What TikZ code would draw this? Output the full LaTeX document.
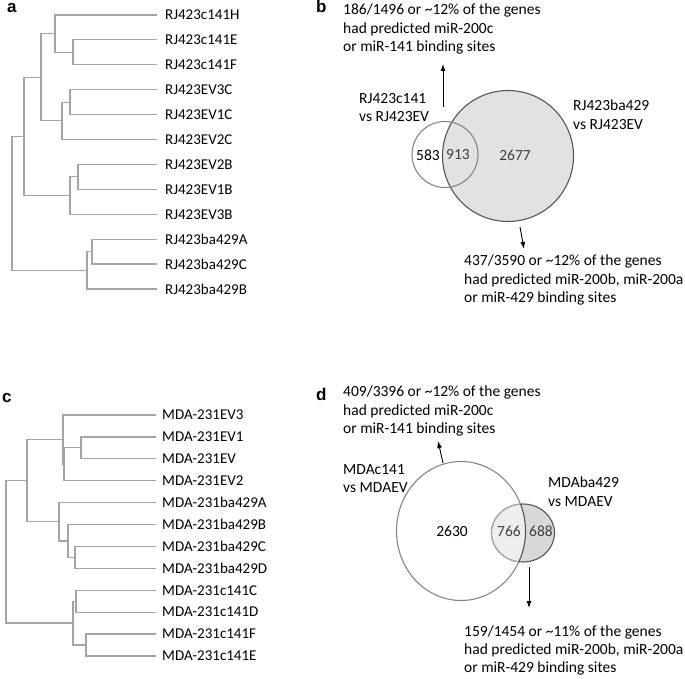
\documentclass[tikz,border=0pt]{standalone}
\usepackage{fontspec}
\setmainfont{Carlito}
\newfontfamily\panelfont{Liberation Sans}
\usepackage{tikz}
\usetikzlibrary{arrows.meta,shapes.geometric}
\definecolor{TreeGray}{HTML}{A4A4A4}
\definecolor{RingDark}{HTML}{555555}
\definecolor{RingMid}{HTML}{858585}
\definecolor{RingLight}{HTML}{A8A8A8}
\definecolor{ShadeBig}{HTML}{E2E2E2}
\definecolor{ShadeDark}{HTML}{D8D8D8}
\definecolor{ShadeLight}{HTML}{EEEEEE}
\definecolor{NumGray}{HTML}{404040}

\begin{document}
\begin{tikzpicture}[x=1pt, y=-1pt,
  leaf/.style={anchor=west, inner sep=0pt, font=\fontsize{15}{16}\selectfont},
  branch/.style={draw=TreeGray, line width=1.2pt},
  panel/.style={anchor=base west, inner sep=0pt, font=\panelfont\bfseries\fontsize{17}{19}\selectfont},
  note/.style={anchor=north west, inner sep=0pt, align=left, font=\fontsize{15.5}{18.4}\selectfont},
  count/.style={inner sep=0pt, font=\fontsize{15.5}{17}\selectfont},
  arrow/.style={-{Latex[length=7pt, width=5pt]}, line width=0.9pt}
]
\useasboundingbox (0,0) rectangle (685,679);

% panel labels
\node[panel] (pa) at (7,12.5) {a};
\node[panel] (pb) at (316,12.5) {b};
\node[panel] (pc) at (2,402) {c};
\node[panel] (pd) at (316,400) {d};

% tree a
\foreach \lab [count=\i from 1] in {RJ423c141H, RJ423c141E, RJ423c141F, RJ423EV3C, RJ423EV1C, RJ423EV2C,
    RJ423EV2B, RJ423EV1B, RJ423EV3B, RJ423ba429A, RJ423ba429C, RJ423ba429B} {
  \coordinate (a\i) at (157, {15+24.9*(\i-1)});
  \node[leaf] (a\i l) at (165, {15+24.9*(\i-1)}) {\lab};
}
\coordinate (aEF) at (73,52.35);
\coordinate (aHEF) at (55,33.7);
\coordinate (aC13) at (70,102.15);
\coordinate (aC) at (62,120.8);
\coordinate (aCH) at (41,77.3);
\coordinate (aB12) at (78,176.85);
\coordinate (aB) at (70,195.5);
\coordinate (aEV) at (24,136.4);
\coordinate (aAC) at (92,251.55);
\coordinate (aBA) at (87,270.2);
\coordinate (aRoot) at (12,203.3);
\foreach \p/\c in {aEF/a2, aEF/a3, aHEF/a1, aHEF/aEF, aC13/a4, aC13/a5, aC/aC13, aC/a6,
    aCH/aHEF, aCH/aC, aB12/a7, aB12/a8, aB/aB12, aB/a9, aEV/aCH, aEV/aB,
    aAC/a10, aAC/a11, aBA/aAC, aBA/a12, aRoot/aEV, aRoot/aBA}
  \draw[branch] (\p) |- (\c);

% tree c
\foreach \lab [count=\i from 1] in {MDA-231EV3, MDA-231EV1, MDA-231EV, MDA-231EV2, MDA-231ba429A, MDA-231ba429B,
    MDA-231ba429C, MDA-231ba429D, MDA-231c141C, MDA-231c141D, MDA-231c141F, MDA-231c141E} {
  \coordinate (c\i) at (156, {415+21.9*(\i-1)});
  \node[leaf] (c\i l) at (162, {415+21.9*(\i-1)}) {\lab};
}
\coordinate (cE12) at (81,447.85);
\coordinate (cE2) at (64,464.3);
\coordinate (cEV) at (63,439.6);
\coordinate (cCD) at (75,557.35);
\coordinate (cBCD) at (68,540.9);
\coordinate (cBA) at (59,521.75);
\coordinate (cUp) at (27,480.7);
\coordinate (cC12) at (76,601.15);
\coordinate (cFE) at (86,644.95);
\coordinate (cC141) at (73,623.05);
\coordinate (cRoot) at (6,551.9);
\foreach \p/\c in {cE12/c2, cE12/c3, cE2/cE12, cE2/c4, cEV/c1, cEV/cE2,
    cCD/c7, cCD/c8, cBCD/c6, cBCD/cCD, cBA/c5, cBA/cBCD, cUp/cEV, cUp/cBA,
    cC12/c9, cC12/c10, cFE/c11, cFE/c12, cC141/cC12, cC141/cFE, cRoot/cUp, cRoot/cC141}
  \draw[branch] (\p) |- (\c);

% venn b
\node[circle, draw=RingDark, fill=ShadeBig, line width=1.1pt, minimum size=131pt] (bBig) at (508,156) {};
\node[circle, draw=RingMid, line width=1.1pt, minimum size=66pt] (bSmall) at (445,154.5) {};
\node[count] (b583) at (428,155) {583};
\node[count, text=NumGray] (b913) at (458,155) {913};
\node[count, text=NumGray] (b2677) at (515,155) {2677};
\node[note] (bTop) at (343,4) {186/1496 or \textasciitilde12\% of the genes\\had predicted miR-200c\\or miR-141 binding sites};
\node[note] (bLeft) at (359,93) {RJ423c141\\vs RJ423EV};
\node[note] (bRight) at (573,100) {RJ423ba429\\vs RJ423EV};
\node[note] (bBot) at (464,255) {437/3590 or \textasciitilde12\% of the genes\\had predicted miR-200b, miR-200a\\or miR-429 binding sites};
\coordinate (bUpA) at (443,107);
\coordinate (bUpB) at (443,64);
\coordinate (bDnA) at (520,227);
\coordinate (bDnB) at (524,249);
\draw[arrow] (bUpA) -- (bUpB);
\draw[arrow] (bDnA) -- (bDnB);

% venn d
\node[ellipse, draw=RingMid, line width=1.1pt, minimum width=129pt, minimum height=139pt] (dBig) at (461,531) {};
\node[ellipse, draw=RingDark, fill=ShadeDark, line width=1.1pt, minimum width=63pt, minimum height=58pt] (dSmall) at (523,533) {};
\begin{scope}
  \clip (dBig.center) ellipse [x radius=64.5pt, y radius=69.5pt];
  \fill[ShadeLight] (dSmall.center) ellipse [x radius=31.5pt, y radius=29pt];
  \draw[RingLight, line width=1.3pt] (dSmall.center) ellipse [x radius=31.5pt, y radius=29pt];
\end{scope}
\begin{scope}
  \clip (dSmall.center) ellipse [x radius=31.5pt, y radius=29pt];
  \draw[RingDark, line width=1.1pt] (dBig.center) ellipse [x radius=64.5pt, y radius=69.5pt];
\end{scope}
\node[count] (d2630) at (452,531) {2630};
\node[count, text=NumGray] (d766) at (509,531) {766};
\node[count, text=NumGray] (d688) at (541,531) {688};
\node[note] (dTop) at (343,386) {409/3396 or \textasciitilde12\% of the genes\\had predicted miR-200c\\or miR-141 binding sites};
\node[note] (dLeft) at (343,464) {MDAc141\\vs MDAEV};
\node[note] (dRight) at (548,477) {MDAba429\\vs MDAEV};
\node[note, font=\fontsize{15.5}{17.6}\selectfont] (dBot) at (464,626) {159/1454 or \textasciitilde11\% of the genes\\had predicted miR-200b, miR-200a\\or miR-429 binding sites};
\coordinate (dUpA) at (443,463);
\coordinate (dUpB) at (438,441);
\coordinate (dDnA) at (529,567);
\coordinate (dDnB) at (529,608);
\draw[arrow] (dUpA) -- (dUpB);
\draw[arrow] (dDnA) -- (dDnB);
\end{tikzpicture}
\end{document}
